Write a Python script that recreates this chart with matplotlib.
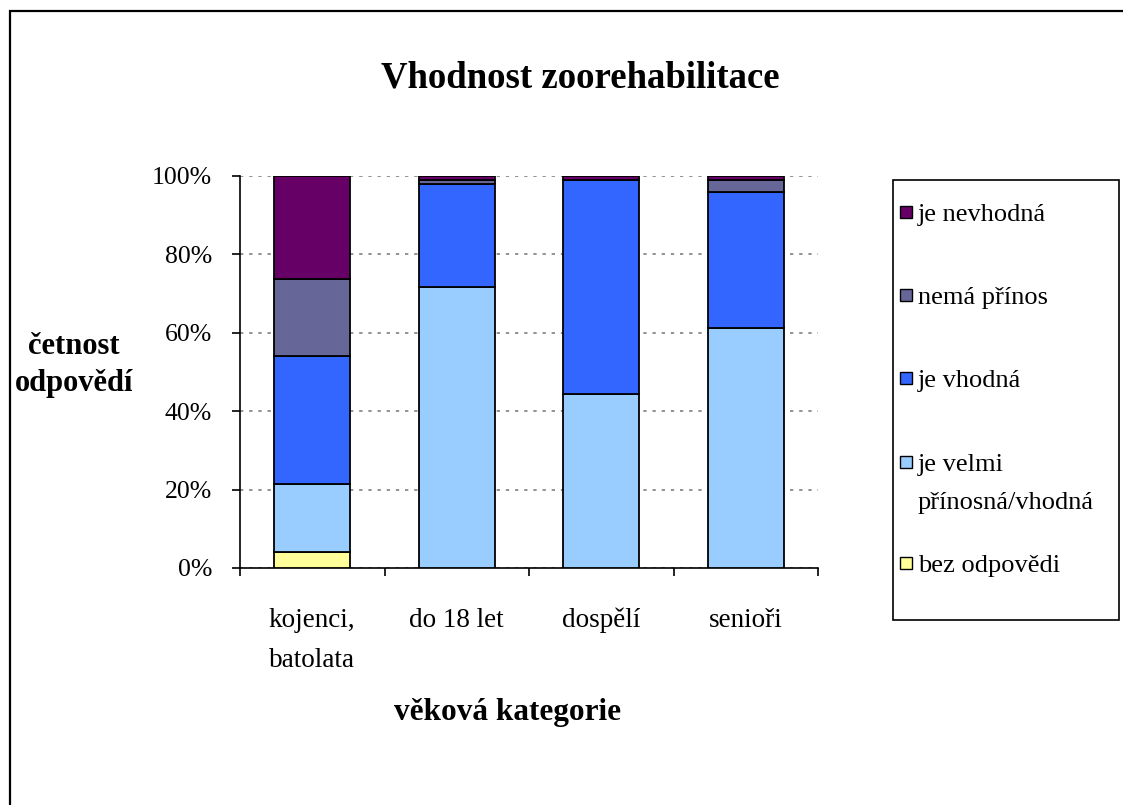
import matplotlib
matplotlib.use("Agg")
import matplotlib.pyplot as plt
from matplotlib.patches import Rectangle
import numpy as np

plt.rcParams['font.family'] = ['Liberation Serif', 'DejaVu Serif']

title = "Vhodnost zoorehabilitace"
xlabel = "věková kategorie"
ylabel = "četnost\nodpovědí"
categories = ["kojenci,\nbatolata", "do 18 let", "dospělí", "senioři"]

series_names = ["bez odpovědi", "je velmi\npřínosná/vhodná", "je vhodná", "nemá přínos", "je nevhodná"]
bez_odpovedi = [4.1, 0.0, 0.0, 0.0]
velmi_prinosna = [17.3, 71.6, 44.4, 61.2]
je_vhodna = [32.7, 26.3, 54.5, 34.7]
nema_prinos = [19.5, 0.9, 0.0, 3.0]
je_nevhodna = [26.4, 1.2, 1.1, 1.1]
colors = ["#FFFF99", "#99CCFF", "#3366FF", "#666699", "#660066"]

yticks = [0, 20, 40, 60, 80, 100]
ytick_labels = ["0%", "20%", "40%", "60%", "80%", "100%"]

W, H = 1123, 805
fig = plt.figure(figsize=(W / 100, H / 100), dpi=100)
fig.patch.set_facecolor("white")

def fx(px):
    return px / W

def fy(py):
    return 1 - py / H

# outer border (extends past right/bottom edge)
fig.patches.append(Rectangle((fx(9.5), fy(900)), fx(1300), fy(11) - fy(900),
                             transform=fig.transFigure, fill=False,
                             edgecolor="black", linewidth=1.6, zorder=0))

ax_top, ax_bot = 175.7, 568
ax = fig.add_axes([fx(240), fy(ax_bot), fx(818) - fx(240), fy(ax_top) - fy(ax_bot)])
x = np.arange(len(categories))
data = [bez_odpovedi, velmi_prinosna, je_vhodna, nema_prinos, je_nevhodna]
bottom = np.zeros(len(categories))
for vals, col in zip(data, colors):
    ax.bar(x, vals, width=0.526, bottom=bottom, color=col, edgecolor="black",
           linewidth=1.3, zorder=3)
    bottom += np.array(vals)

ax.set_xlim(-0.5, len(categories) - 0.5)
ax.set_ylim(0, 100)
ax.set_yticks(yticks)
ax.set_yticklabels(ytick_labels)
ax.set_xticks(x)
ax.set_xticklabels([])
ax.set_xticks(np.arange(-0.5, len(categories)), minor=True)
ax.tick_params(axis="x", which="major", length=0)
ax.tick_params(axis="x", which="minor", length=6, width=1.2, direction="out")
ax.tick_params(axis="y", which="major", length=6, width=1.2, direction="out",
               pad=14, labelsize=18.5)
for s in ["top", "right"]:
    ax.spines[s].set_visible(False)
for s in ["left", "bottom"]:
    ax.spines[s].set_linewidth(1.2)
ax.yaxis.grid(True, linestyle=(0, (2, 3.5)), color="#808080", linewidth=1.2)
ax.set_axisbelow(True)

# category labels (first-line baseline aligned)
ax_h = ax_bot - ax_top
for xi, lab in zip(x, categories):
    for k, ln in enumerate(lab.split("\n")):
        base_px = 627 + 40 * k
        ax.text(xi, -(base_px - ax_bot) / ax_h, ln, transform=ax.get_xaxis_transform(),
                ha="center", va="baseline", fontsize=19.5, clip_on=False)

fig.text(fx(580), fy(88), title, ha="center", va="baseline",
         fontsize=26.5, fontweight="bold")
fig.text(fx(507), fy(720), xlabel, ha="center", va="baseline",
         fontsize=22.5, fontweight="bold")
fig.text(fx(74), fy(365), ylabel, ha="center", va="center",
         fontsize=22, fontweight="bold", linespacing=1.35)

# legend box
fig.patches.append(Rectangle((fx(893), fy(620)), fx(1119) - fx(893), fy(180) - fy(620),
                             transform=fig.transFigure, fill=False,
                             edgecolor="black", linewidth=1.2))
legend_order = [4, 3, 2, 1, 0]
legend_y = [212, 295, 378, 462, 563]
for idx, yc in zip(legend_order, legend_y):
    fig.patches.append(Rectangle((fx(900), fy(yc + 6)), fx(12), fy(0) - fy(12),
                                 transform=fig.transFigure, facecolor=colors[idx],
                                 edgecolor="black", linewidth=1.0))
    lines = series_names[idx].split("\n")
    for k, ln in enumerate(lines):
        fig.text(fx(918), fy(yc + k * 39), ln, ha="left", va="center_baseline",
                 fontsize=19)

fig.savefig("out.png", dpi=100, facecolor="white")
